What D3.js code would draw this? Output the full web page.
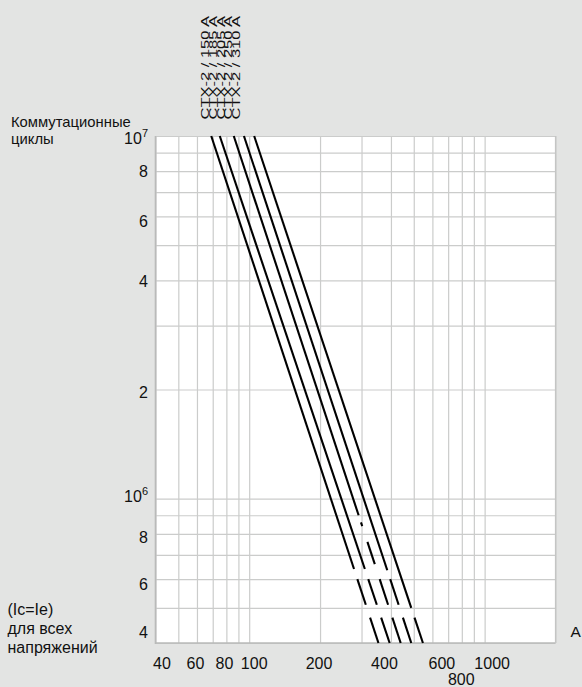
<!DOCTYPE html>
<html>
<head>
<meta charset="utf-8">
<script src="https://cdn.jsdelivr.net/npm/d3@7"></script>
<style>
  html, body { margin: 0; padding: 0; background: #e3e4e3; }
  svg { display: block; }
  text { font-family: "Liberation Sans", Arial, Helvetica, sans-serif; fill: #111; }
</style>
</head>
<body>
<div id="chart"></div>
<script>
// ---------------- DATA ----------------
const seriesNames = ["CTX-2 / 150 A", "CTX-2 / 185 A", "CTX-2 / 205 A", "CTX-2 / 250 A", "CTX-2 / 310 A"];

// drawn pieces of each curve: [[current A, cycles], [current A, cycles]]
const seg150 = [[[69, 1e7], [278.8, 6.4e5]], [[288, 6.0e5], [312.9, 5.1e5]], [[326.2, 4.7e5], [354, 4e5]]];
const seg185 = [[[75, 1e7], [309.9, 6.4e5]], [[320.4, 6.0e5], [348.4, 5.1e5]], [[363.5, 4.7e5], [395, 4e5]]];
const seg205 = [[[86, 1e7], [291.6, 9.0e5]], [[298.4, 8.6e5], [302.1, 8.4e5]], [[317.8, 7.6e5], [341.6, 6.6e5]],
                [[358.3, 6.0e5], [389, 5.1e5]], [[405.6, 4.7e5], [440, 4e5]]];
const seg250 = [[[95, 1e7], [385.9, 6.35e5]], [[397.2, 6.0e5], [431.2, 5.1e5]], [[449.7, 4.7e5], [488, 4e5]]];
const seg310 = [[[105, 1e7], [487.9, 5.0e5]], [[503.7, 4.7e5], [547, 4e5]]];
const allSegments = [seg150, seg185, seg205, seg250, seg310];

const xGridValues = [40, 50, 60, 70, 80, 90, 100, 200, 300, 400, 500, 600, 700, 800, 900, 1000, 2000];
const xTickValues = [40, 60, 80, 100, 200, 400, 600, 800, 1000];
const xTickLabels = ["40", "60", "80", "100", "200", "400", "600", "800", "1000"];

const yGridValues = [4e5, 5e5, 6e5, 7e5, 8e5, 9e5, 1e6, 2e6, 3e6, 4e6, 5e6, 6e6, 7e6, 8e6, 9e6, 1e7];
const yTickValues = [1e7, 8e6, 6e6, 4e6, 2e6, 1e6, 8e5, 6e5, 4e5];
const yTickMain = ["10", "8", "6", "4", "2", "10", "8", "6", "4"];
const yTickSup = ["7", "", "", "", "", "6", "", "", ""];

const yTitle = ["Коммутационные", "циклы"];
const noteLines = ["(Ic=Ie)", "для всех", "напряжений"];
const xUnit = "A";

// ---------------- LAYOUT ----------------
const W = 582, H = 687;
const pLeft = 155.5, pRight = 555.5, pTop = 136, pBottom = 643;
// small label nudges to follow the original placement
const xLabelDx = [6, -2, -2.5, 4.5, -1.5, -7, 9, -1, 7];
const xLabelDy = [0, 0, 0, 0, 0, 0, 0, 15.5, 0];
const yLabelDy = [8, 5.8, 10.3, 7.1, 8.4, 3.3, 8.9, 11, -4.8];

const svg = d3.select("#chart").append("svg").attr("width", W).attr("height", H);

const x = d3.scaleLog().domain([40, 2000]).range([pLeft, pRight]);
const y = d3.scaleLog().domain([4e5, 1e7]).range([pBottom, pTop]);

// plot background
svg.append("rect").attr("x", pLeft).attr("y", pTop).attr("width", pRight - pLeft).attr("height", pBottom - pTop)
  .attr("fill", "#ffffff");

// vertical gridlines
const gx = svg.append("g").attr("transform", `translate(0,${pBottom})`)
  .call(d3.axisBottom(x).tickValues(xGridValues).tickSize(-(pBottom - pTop)).tickFormat(""));
gx.select(".domain").remove();
gx.selectAll(".tick line").attr("stroke", "#cbcccb").attr("stroke-width", 1.2);

// horizontal gridlines
const gy = svg.append("g").attr("transform", `translate(${pLeft},0)`)
  .call(d3.axisLeft(y).tickValues(yGridValues).tickSize(-(pRight - pLeft)).tickFormat(""));
gy.select(".domain").remove();
gy.selectAll(".tick line").attr("stroke", "#cbcccb").attr("stroke-width", 1.2);

// frame: left & bottom darker
svg.append("line").attr("x1", pLeft).attr("x2", pLeft).attr("y1", pTop).attr("y2", pBottom + 1)
  .attr("stroke", "#b9bab9").attr("stroke-width", 1.6);
svg.append("line").attr("x1", pLeft).attr("x2", pRight).attr("y1", pBottom).attr("y2", pBottom)
  .attr("stroke", "#b9bab9").attr("stroke-width", 1.6);
svg.append("line").attr("x1", pRight).attr("x2", pRight).attr("y1", pTop).attr("y2", pBottom)
  .attr("stroke", "#c4c5c4").attr("stroke-width", 1.2);

// curves
const line = d3.line().x(d => x(d[0])).y(d => y(d[1]));
const curves = svg.append("g");
allSegments.forEach(segs => {
  segs.forEach(s => {
    curves.append("path").attr("d", line(s)).attr("fill", "none")
      .attr("stroke", "#000").attr("stroke-width", 2.1);
  });
});

// x tick labels
const ax = svg.append("g").attr("transform", `translate(0,${pBottom})`)
  .call(d3.axisBottom(x).tickValues(xTickValues).tickSize(0).tickPadding(0)
    .tickFormat((d, i) => xTickLabels[i]));
ax.select(".domain").remove();
ax.selectAll(".tick text")
  .attr("fill", "#111").attr("font-size", 16)
  .attr("font-family", "Liberation Sans, Arial, sans-serif")
  .attr("dy", null)
  .attr("y", (d, i) => 26 + xLabelDy[i])
  .attr("x", (d, i) => xLabelDx[i]);

// y tick labels
const ay = svg.append("g");
yTickValues.forEach((v, i) => {
  const t = ay.append("text").attr("x", 148).attr("y", y(v) + yLabelDy[i])
    .attr("text-anchor", "end").attr("font-size", 16);
  t.append("tspan").text(yTickMain[i]);
  if (yTickSup[i]) t.append("tspan").attr("font-size", 11).attr("dy", -7).text(yTickSup[i]);
});

// y title
yTitle.forEach((s, i) => {
  svg.append("text").attr("x", 11).attr("y", 126.5 + i * 17).attr("font-size", 14.8).text(s);
});
// note
noteLines.forEach((s, i) => {
  svg.append("text").attr("x", 7.5).attr("y", 615 + i * 19).attr("font-size", 16).text(s);
});
// unit
svg.append("text").attr("x", 570.5).attr("y", 637).attr("font-size", 15.5).text(xUnit);

// rotated series labels
seriesNames.forEach((s, i) => {
  svg.append("text")
    .attr("transform", `translate(${209 + i * 7.75},119.5) rotate(-90) scale(1,0.62)`)
    .attr("font-size", 16.5).text(s);
});
</script>
</body>
</html>
